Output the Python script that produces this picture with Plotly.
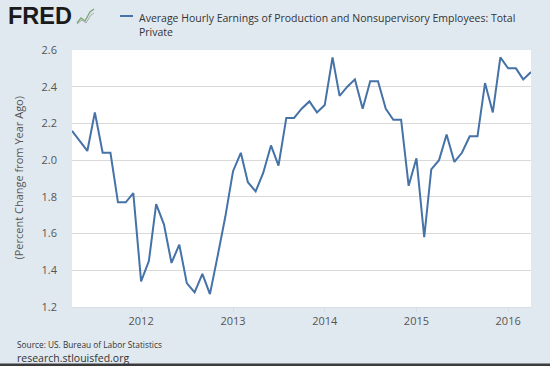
import plotly.graph_objects as go
import pandas as pd

# ---- data ----
start_month = "2011-04-01"
values = [
    2.16, 2.105, 2.05, 2.26, 2.04, 2.04, 1.77, 1.77, 1.82,
    1.34, 1.45, 1.76, 1.65, 1.44, 1.54, 1.33, 1.28, 1.38, 1.27, 1.48, 1.69,
    1.94, 2.04, 1.88, 1.83, 1.93, 2.08, 1.97, 2.23, 2.23, 2.28, 2.32, 2.26,
    2.30, 2.56, 2.35, 2.40, 2.44, 2.28, 2.43, 2.43, 2.28, 2.22, 2.22, 1.86,
    2.01, 1.58, 1.95, 2.00, 2.14, 1.99, 2.04, 2.13, 2.13, 2.42, 2.26, 2.56,
    2.50, 2.50, 2.44, 2.48,
]
dates = pd.date_range(start_month, periods=len(values), freq="MS")
series_name = "Average Hourly Earnings of Production and Nonsupervisory Employees: Total<br>Private"
y_title = "(Percent Change from Year Ago)"
y_ticks = [1.2, 1.4, 1.6, 1.8, 2.0, 2.2, 2.4, 2.6]
x_ticks = ["2012-01-01", "2013-01-01", "2014-01-01", "2015-01-01", "2016-01-01"]
x_ticklabels = ["2012", "2013", "2014", "2015", "2016"]
source_text = "Source: US. Bureau of Labor Statistics"
site_text = "research.stlouisfed.org"

W, H = 550, 366
L, R, T, B = 72, 531, 50, 307
LINE_COLOR = "#4572a7"
BG = "#e1e9f0"


def px(x):
    return (x - L) / (R - L)


def py(y):
    return (B - y) / (B - T)


fig = go.Figure()
fig.add_trace(go.Scatter(x=dates, y=values, mode="lines",
                         line=dict(color=LINE_COLOR, width=2),
                         name=series_name, showlegend=False,
                         hoverinfo="x+y"))

font_family = "Open Sans, Noto Sans, DejaVu Sans, sans-serif"

fig.update_layout(
    width=W, height=H,
    margin=dict(l=L, r=W - R, t=T, b=H - B, pad=0),
    paper_bgcolor=BG, plot_bgcolor="white",
    font=dict(family=font_family, size=11, color="#555555"),
    xaxis=dict(range=[dates[0], dates[-1]], tickvals=x_ticks, ticktext=x_ticklabels,
               showgrid=False, zeroline=False, showline=True, linecolor="#d8dde3",
               ticks="outside", ticklen=4, tickcolor="#d8dde3",
               tickfont=dict(size=11, color="#555555")),
    yaxis=dict(range=[1.2, 2.6], tickvals=y_ticks, tickformat=".1f",
               showgrid=True, gridcolor="#d9d9d9", gridwidth=1, zeroline=False,
               showline=False, ticks="", ticklabelstandoff=14,
               tickfont=dict(size=11, color="#555555")),
)

annotations = [
    dict(text="<b>FRED</b>", x=px(6), y=py(16), xanchor="left", yanchor="middle",
         font=dict(family="Liberation Sans, Arial, sans-serif", size=23.5, color="#1a1a1a")),
    dict(text=series_name, x=px(137), y=py(9), xanchor="left", yanchor="top",
         align="left", font=dict(family=font_family, size=10.5, color="#333333")),
    dict(text=y_title, x=px(18), y=0.5, xanchor="center", yanchor="middle", textangle=-90,
         font=dict(family=font_family, size=11, color="#555555")),
    dict(text=source_text, x=px(15), y=py(344), xanchor="left", yanchor="middle",
         font=dict(family=font_family, size=8.3, color="#333333")),
    dict(text=site_text, x=px(15), y=py(358), xanchor="left", yanchor="middle",
         font=dict(family=font_family, size=10.5, color="#333333")),
]
for a in annotations:
    a.update(xref="paper", yref="paper", showarrow=False)
fig.update_layout(annotations=annotations)

shapes = [
    # legend line sample
    dict(type="line", x0=px(120), x1=px(133), y0=py(16), y1=py(16),
         line=dict(color=LINE_COLOR, width=2)),
    # small logo chart icon
    dict(type="path", path=f"M {px(77)},{py(23)} L {px(81)},{py(18)} L {px(85)},{py(21)} L {px(90)},{py(12)} L {px(94)},{py(9)}",
         line=dict(color="#7fa878", width=1.4)),
    dict(type="path", path=f"M {px(77)},{py(24)} L {px(82)},{py(20)} L {px(86)},{py(23)} L {px(91)},{py(15)} L {px(94)},{py(13)}",
         line=dict(color="#a8a8a8", width=1)),
    # dark strip at bottom
    dict(type="rect", x0=px(-2), x1=px(W + 2), y0=py(363.5), y1=py(370),
         fillcolor="#3b3b3b", line=dict(width=0), layer="above"),
]
for s in shapes:
    s.update(xref="paper", yref="paper")
fig.update_layout(shapes=shapes)

fig.write_html("out.html", config={"displayModeBar": False},
               post_script="document.body.style.margin='0';document.body.style.overflow='hidden';")
